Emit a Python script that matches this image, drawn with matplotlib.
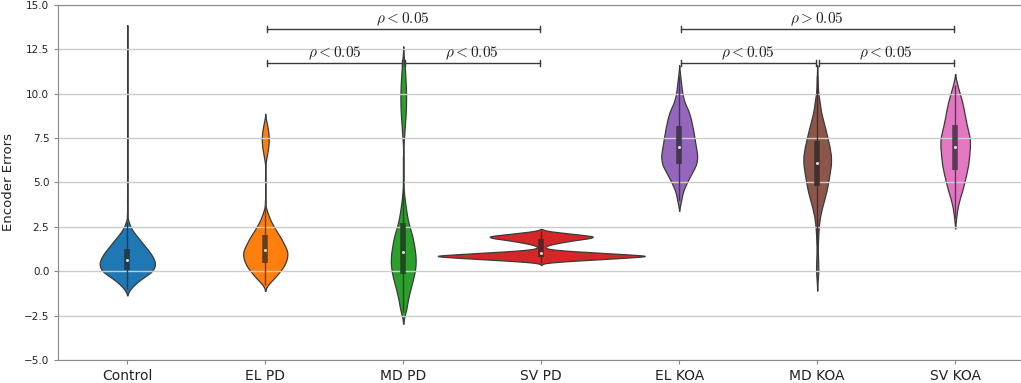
import numpy as np
import matplotlib
matplotlib.use("Agg")
import matplotlib.pyplot as plt

plt.rcParams['mathtext.fontset'] = 'cm'

categories = ["Control", "EL PD", "MD PD", "SV PD", "EL KOA", "MD KOA", "SV KOA"]
colors = ["#1f77b4", "#ff7f0e", "#2ca02c", "#d62728", "#9467bd", "#8c564b", "#e377c2"]

control_vals = [-1.0, -0.75, -0.5, -0.25, 0.0, 0.25, 0.5, 0.75, 1.0, 1.25, 1.5, 1.75,
                2.0, 2.25, 2.5, 2.75, 3.25, 4.0, 5.0, 6.0, 7.5, 9.0, 10.5, 12.0, 13.5]
control_counts = [3, 7, 12, 18.5, 25, 27, 27.5, 25.5, 23, 19.5, 16, 12.5,
                  9, 5.5, 3, 1.5, 0.5, 0.4, 0.5, 0.3, 0.3, 0.3, 0.3, 0.3, 0.3]

elpd_vals = [-0.75, -0.5, -0.25, 0.0, 0.25, 0.5, 0.75, 1.0, 1.25, 1.5, 1.75, 2.0, 2.25,
             2.5, 2.75, 3.0, 3.25, 3.5, 4.0, 4.75, 5.5, 6.25, 6.5, 6.75, 7.0, 7.25, 7.5,
             7.75, 8.0, 8.25, 8.5]
elpd_counts = [2.5, 7, 11, 14.5, 18, 20, 21.5, 22, 21, 18.5, 16.5, 14, 11,
               8.5, 6, 4, 2.5, 1, 0.3, 0.3, 0.3, 0.8, 1.5, 2.3, 3, 3.4, 3.5,
               3.2, 2.5, 1.8, 0.8]

mdpd_vals = [-2.3, -2.0, -1.5, -1.0, -0.5, 0.0, 0.5, 1.0, 1.5, 2.0, 2.5, 3.0, 3.5, 4.0, 4.5,
             5.5, 6.5, 7.5, 8.0, 8.5, 9.0, 9.5, 10.0, 10.5, 11.0, 11.5, 12.0]
mdpd_counts = [1.5, 3, 5, 7, 9.5, 11.5, 12.5, 12, 10.5, 9, 6, 4, 2.7, 1.5, 0.5,
               0.2, 0.2, 0.8, 1.3, 2, 2.5, 2.8, 2.8, 2.5, 2, 1.5, 0.6]

svpd_vals = [0.46, 0.56, 0.66, 0.76, 0.86, 0.96, 1.06, 1.16, 1.26, 1.36, 1.46, 1.56, 1.66,
             1.76, 1.86, 1.96, 2.06, 2.16, 2.26]
svpd_counts = [2, 22, 50, 78, 104, 75, 48, 20, 5, 3, 6, 13, 22,
               32, 45, 50, 35, 20, 6]

elkoa_vals = [4.0, 4.5, 5.0, 5.5, 6.0, 6.5, 7.0, 7.5, 8.0, 8.5, 9.0, 9.5, 10.0, 10.5, 11.0]
elkoa_counts = [2, 3.5, 7.5, 12, 17, 18, 16.3, 15, 13.5, 11.7, 9.5, 5, 3, 2, 1]

mdkoa_vals = [-0.5, 0.0, 0.5, 1.0, 1.5, 2.0, 2.5, 3.0, 3.5, 4.0, 4.5, 5.0, 5.5, 6.0, 6.5,
              7.0, 7.5, 8.0, 8.5, 9.0, 9.5, 10.0, 10.5, 11.0]
mdkoa_counts = [0.5, 1.2, 1.0, 0.6, 0.6, 1, 1.5, 2.5, 4.3, 6.7, 9, 10.7, 12, 13.5, 13.5,
                12, 10, 8, 5.7, 3.5, 2.5, 1, 0.5, 0.4]

svkoa_vals = [3.0, 3.5, 4.0, 4.5, 5.0, 5.5, 6.0, 6.5, 7.0, 7.5, 8.0, 8.5, 9.0, 9.5, 10.0, 10.5]
svkoa_counts = [1, 2, 4, 6.7, 9, 11, 12.8, 13.7, 14.5, 14.5, 12.2, 10.3, 8.8, 7, 4.5, 2]

groups = [(control_vals, control_counts), (elpd_vals, elpd_counts), (mdpd_vals, mdpd_counts),
          (svpd_vals, svpd_counts), (elkoa_vals, elkoa_counts), (mdkoa_vals, mdkoa_counts),
          (svkoa_vals, svkoa_counts)]

# significance brackets
sig_pairs = [(1, 3), (1, 2), (2, 3), (4, 6), (4, 5), (5, 6)]
sig_levels = [13.65, 11.73, 11.73, 13.65, 11.73, 11.73]
sig_labels = [r"$\rho < 0.05$", r"$\rho < 0.05$", r"$\rho < 0.05$",
              r"$\rho > 0.05$", r"$\rho < 0.05$", r"$\rho < 0.05$"]

# style: kde bandwidth and max half width of each violin
bandwidth = [0.18, 0.18, 0.33, 0.06, 0.3, 0.3, 0.3]
half_width = [0.20, 0.16, 0.09, 0.75, 0.13, 0.10, 0.107]


def kde(vals, counts, h, n=800):
    y = np.linspace(vals.min() - 2 * h, vals.max() + 2 * h, n)
    d = (counts[None, :] * np.exp(-0.5 * ((y[:, None] - vals[None, :]) / h) ** 2)).sum(1)
    return y, d / d.max()


def wquantile(vals, counts, q):
    order = np.argsort(vals)
    v = vals[order]
    c = counts[order]
    cum = (np.cumsum(c) - 0.5 * c) / c.sum()
    return np.interp(q, cum, v)


fig = plt.figure(figsize=(10.21, 3.83), dpi=100)
ax = fig.add_axes([0.0571, 0.060, 0.946, 0.9277])

for i, (vals, counts) in enumerate(groups):
    vals = np.asarray(vals, float)
    counts = np.asarray(counts, float)
    y, d = kde(vals, counts, bandwidth[i])
    w = d * half_width[i]
    ax.fill_betweenx(y, i - w, i + w, facecolor=colors[i], edgecolor="#3a3a3a", linewidth=0.9)

    q1, med, q3 = wquantile(vals, counts, [0.25, 0.5, 0.75])
    iqr = q3 - q1
    lo = vals[vals >= q1 - 1.5 * iqr].min()
    hi = vals[vals <= q3 + 1.5 * iqr].max()
    rgb = np.array(matplotlib.colors.to_rgb(colors[i]))
    box_c = 0.3 * rgb + 0.7 * np.array([0.13, 0.13, 0.13])
    ax.plot([i, i], [lo, hi], color=box_c, lw=1.0, solid_capstyle="butt")
    ax.plot([i, i], [q1, q3], color=box_c, lw=4.0, solid_capstyle="butt")
    ax.plot(i, med, "o", color="#dddddd", ms=2.2, mew=0)

for (i, j), lev, lab in zip(sig_pairs, sig_levels, sig_labels):
    a, b = i + 0.012, j - 0.012
    ax.plot([a, b], [lev, lev], color="#3a3a3a", lw=1.0)
    ax.plot([a, a], [lev - 0.17, lev + 0.17], color="#3a3a3a", lw=1.0)
    ax.plot([b, b], [lev - 0.17, lev + 0.17], color="#3a3a3a", lw=1.0)
    ax.text((i + j) / 2, lev + 0.03, lab, ha="center", va="bottom", fontsize=11, color="#222222")

ticks = np.arange(-5, 15.1, 2.5)
ax.set_xlim(-0.5, 6.5)
ax.set_ylim(-5, 15)
ax.set_xticks(range(len(categories)))
ax.set_xticklabels(categories, fontsize=10, color="#222222")
ax.set_yticks(ticks)
ax.set_yticklabels(["%.1f" % t if t >= 0 else "\u2212%.1f" % -t for t in ticks],
                   fontsize=7.5, color="#222222")
ax.set_ylabel("Encoder Errors", fontsize=9.5, color="#222222")
ax.yaxis.set_label_coords(-0.0445, 0.5)
ax.yaxis.grid(True, color="#cccccc", lw=1.0)
for s in ax.spines.values():
    s.set_color("#888888")
ax.spines["right"].set_visible(False)
ax.tick_params(colors="#888888", length=3, labelcolor="#222222")

fig.savefig("out.png", dpi=100)
